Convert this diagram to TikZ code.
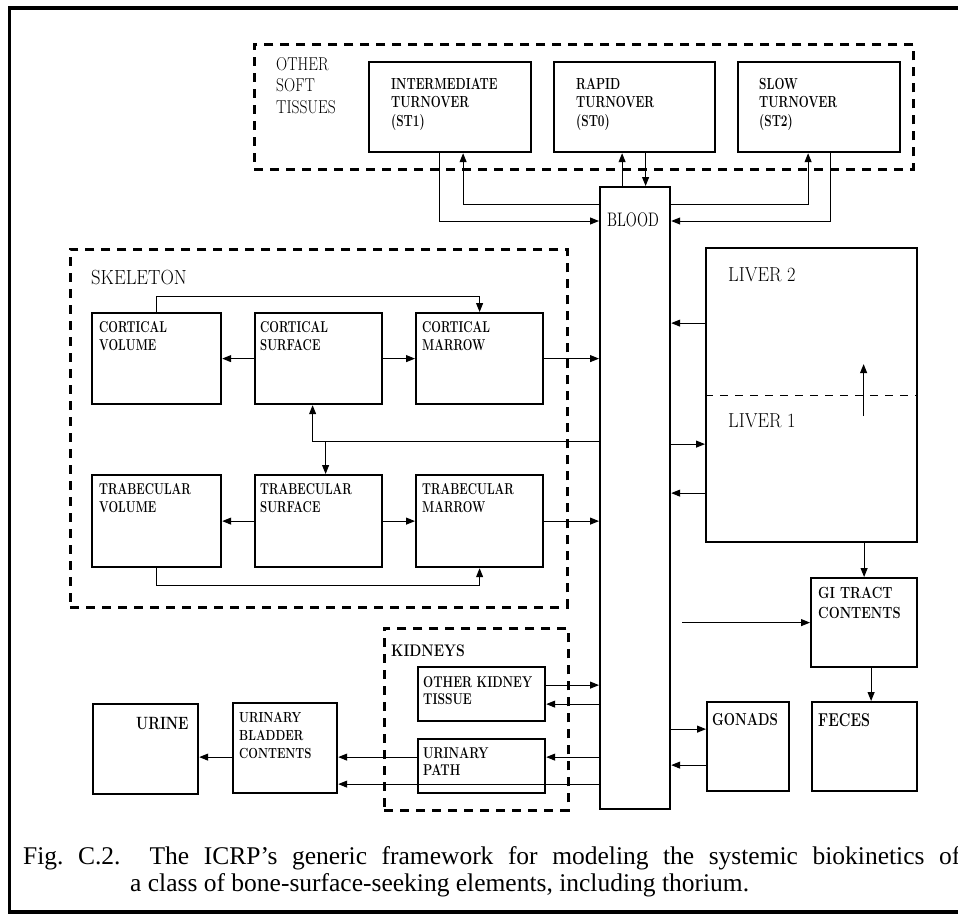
\documentclass[tikz,border=0pt]{standalone}
\usepackage{fontspec}
\newfontfamily\capfont{Liberation Serif}
\usetikzlibrary{arrows.meta,positioning}
\newcommand{\stack}[2]{\scalebox{1}[#1]{\begin{tabular}{@{}l@{}}#2\end{tabular}}}
\tikzset{
  box/.style={draw, line width=2.2pt, anchor=north west, inner sep=0pt},
  group/.style={draw, line width=2.7pt, dash pattern=on 9pt off 7pt, anchor=north west, inner sep=0pt},
  txt/.style={anchor=north west, inner sep=0pt},
  flow/.style={line width=1pt, -{Triangle[length=9pt,width=7pt]}},
  link/.style={line width=1pt},
}
\begin{document}
\begin{tikzpicture}[x=1pt, y=-1pt]
  \useasboundingbox (0,0) rectangle (958,914);
  % frame, open at the right
  \draw[line width=3.6pt] (960,8) -- (9.5,8) -- (9.5,912) -- (960,912);

  % other soft tissues
  \node[group, minimum width=659, minimum height=125] (ost) at (253,43) {};
  \node[txt, font=\fontsize{15.5}{17.9}\selectfont] (ost-t) at (276,55) {\stack{1.2}{OTHER\\SOFT\\TISSUES}};
  \node[box, minimum width=162, minimum height=90] (st1) at (368,61) {};
  \node[box, minimum width=161, minimum height=90] (st0) at (553,61) {};
  \node[box, minimum width=162, minimum height=90] (st2) at (737,61) {};
  \node[txt, font=\bfseries\fontsize{11.8}{13.6}\selectfont] (st1-t) at (391,76) {\stack{1.36}{INTERMEDIATE\\TURNOVER\\(ST1)}};
  \node[txt, font=\bfseries\fontsize{11.8}{13.6}\selectfont] (st0-t) at (576,76) {\stack{1.36}{RAPID\\TURNOVER\\(ST0)}};
  \node[txt, font=\bfseries\fontsize{11.8}{13.6}\selectfont] (st2-t) at (759,76) {\stack{1.36}{SLOW\\TURNOVER\\(ST2)}};

  % blood
  \node[box, minimum width=70, minimum height=622] (blood) at (599,186) {};
  \node[inner sep=0pt, font=\fontsize{14.5}{16}\selectfont] (blood-t) at (633,220) {\scalebox{1}[1.35]{BLOOD}};
  \coordinate (bout) at ([yshift=-18pt]blood.north);
  \coordinate (bin) at ([yshift=-35pt]blood.north);

  % skeleton
  \node[group, minimum width=497, minimum height=358] (skel) at (69,248) {};
  \node[txt, font=\fontsize{18.6}{20}\selectfont] (skel-t) at (91,270) {\scalebox{1}[1.1]{SKELETON}};
  \node[box, minimum width=129, minimum height=91] (cv) at (91,312) {};
  \node[box, minimum width=127, minimum height=91] (cs) at (254,312) {};
  \node[box, minimum width=127, minimum height=91] (cm) at (415,312) {};
  \node[box, minimum width=129, minimum height=92] (tv) at (91,474) {};
  \node[box, minimum width=127, minimum height=92] (ts) at (254,474) {};
  \node[box, minimum width=127, minimum height=92] (tm) at (415,474) {};
  \node[txt, font=\bfseries\fontsize{11.4}{13.5}\selectfont] (cv-t) at (99,319) {\stack{1.38}{CORTICAL\\VOLUME}};
  \node[txt, font=\bfseries\fontsize{11.4}{13.5}\selectfont] (cs-t) at (260,319) {\stack{1.38}{CORTICAL\\SURFACE}};
  \node[txt, font=\bfseries\fontsize{11.4}{13.5}\selectfont] (cm-t) at (422,319) {\stack{1.38}{CORTICAL\\MARROW}};
  \node[txt, font=\bfseries\fontsize{11.4}{13.5}\selectfont] (tv-t) at (99,481) {\stack{1.38}{TRABECULAR\\VOLUME}};
  \node[txt, font=\bfseries\fontsize{11.4}{13.5}\selectfont] (ts-t) at (260,481) {\stack{1.38}{TRABECULAR\\SURFACE}};
  \node[txt, font=\bfseries\fontsize{11.4}{13.5}\selectfont] (tm-t) at (422,481) {\stack{1.38}{TRABECULAR\\MARROW}};
  \coordinate (sk) at ([yshift=-36pt]cs.south);

  % liver, gi tract, gonads, feces
  \node[box, minimum width=211, minimum height=294] (liver) at (705,247) {};
  \node[txt, font=\fontsize{18.4}{20}\selectfont] (liver2-t) at (728,267) {\scalebox{1}[1.1]{LIVER 2}};
  \node[txt, font=\fontsize{18.4}{20}\selectfont] (liver1-t) at (728,413) {\scalebox{1}[1.1]{LIVER 1}};
  \node[box, minimum width=106, minimum height=89] (gi) at (810,577) {};
  \node[txt, font=\bfseries\fontsize{13}{16.1}\selectfont] (gi-t) at (818,584) {\stack{1.24}{GI TRACT\\CONTENTS}};
  \node[box, minimum width=82, minimum height=89] (gonads) at (706,701) {};
  \node[box, minimum width=105, minimum height=89] (feces) at (811,701) {};
  \node[txt, font=\bfseries\fontsize{13.3}{15}\selectfont] (gonads-t) at (712,713) {\scalebox{1}[1.3]{GONADS}};
  \node[txt, font=\bfseries\fontsize{14.3}{16}\selectfont] (feces-t) at (818,713) {\scalebox{1}[1.3]{FECES}};

  % kidneys and bladder
  \node[group, minimum width=184, minimum height=182] (kid) at (383,627) {};
  \node[txt, font=\bfseries\fontsize{14}{16}\selectfont] (kid-t) at (391,645) {\scalebox{1}[1.2]{KIDNEYS}};
  \node[box, minimum width=127, minimum height=54] (okt) at (417,666) {};
  \node[box, minimum width=127, minimum height=54] (up) at (417,738) {};
  \node[txt, font=\bfseries\fontsize{12}{13.1}\selectfont] (okt-t) at (423,675) {\stack{1.3}{OTHER KIDNEY\\TISSUE}};
  \node[txt, font=\bfseries\fontsize{12}{13.1}\selectfont] (up-t) at (423,746) {\stack{1.3}{URINARY\\PATH}};
  \node[box, minimum width=105, minimum height=90] (urine) at (92,703) {};
  \node[box, minimum width=104, minimum height=90] (ubc) at (232,702) {};
  \node[txt, font=\bfseries\fontsize{14}{16}\selectfont] (urine-t) at (136,717) {\scalebox{1}[1.27]{URINE}};
  \node[txt, font=\bfseries\fontsize{11.4}{14.1}\selectfont] (ubc-t) at (239,709.5) {\stack{1.28}{URINARY\\BLADDER\\CONTENTS}};

  % caption
  \node[anchor=base west, inner sep=0pt, font=\capfont\fontsize{25.5}{28}\selectfont] (cap1) at (23,864) {\makebox[937pt][s]{\frenchspacing Fig.\ C.2.\ \ The ICRP’s generic framework for modeling the systemic biokinetics of}};
  \node[anchor=base west, inner sep=0pt, font=\capfont\fontsize{25.5}{28}\selectfont] (cap2) at (130,891) {a class of bone-surface-seeking elements, including thorium.};

  % soft tissues <-> blood
  \draw[flow] ([xshift=-11pt]st1.south) |- (blood.west |- bin);
  \draw[flow] (blood.west |- bout) -| ([xshift=13pt]st1.south);
  \draw[flow] ([xshift=-13pt]blood.north) -- ([xshift=-13pt]blood.north |- st0.south);
  \draw[flow] ([xshift=11pt]st0.south) -- ([xshift=11pt]st0.south |- blood.north);
  \draw[flow] (blood.east |- bout) -| ([xshift=-11pt]st2.south);
  \draw[flow] ([xshift=11pt]st2.south) |- (blood.east |- bin);

  % skeleton
  \draw[flow] (cv.north) -- ++(0,-16) -| (cm.north);
  \draw[flow] (cs.west) -- (cv.east);
  \draw[flow] (cs.east) -- (cm.west);
  \draw[flow] (cm.east) -- (cm.east -| blood.west);
  \draw[flow] (blood.west |- sk) -| ([xshift=-6pt]cs.south);
  \draw[flow] ([xshift=7pt]cs.south |- sk) -- ([xshift=7pt]ts.north);
  \draw[flow] (ts.west) -- (tv.east);
  \draw[flow] (ts.east) -- (tm.west);
  \draw[flow] (tm.east) -- (tm.east -| blood.west);
  \draw[flow] (tv.south) -- ++(0,17) -| (tm.south);

  % liver
  \draw[link, dash pattern=on 8pt off 7pt] (liver.west) -- (liver.east);
  \draw[flow] ([xshift=52pt,yshift=-21pt]liver.center) -- ([xshift=52pt,yshift=31pt]liver.center);
  \draw[flow] ([yshift=72pt]liver.west) -- ([yshift=72pt]liver.west -| blood.east);
  \draw[flow] ([yshift=-49pt]liver.west -| blood.east) -- ([yshift=-49pt]liver.west);
  \draw[flow] ([yshift=-98pt]liver.west) -- ([yshift=-98pt]liver.west -| blood.east);
  \draw[flow] (gi.north |- liver.south) -- (gi.north);
  \draw[flow] ([xshift=11pt]gi.west -| blood.east) -- (gi.west);
  \draw[flow] ([xshift=7pt]gi.south) -- ([xshift=7pt]gi.south |- feces.north);
  \draw[flow] ([yshift=17.5pt]gonads.west -| blood.east) -- ([yshift=17.5pt]gonads.west);
  \draw[flow] ([yshift=-18.5pt]gonads.west) -- ([yshift=-18.5pt]gonads.west -| blood.east);

  % kidneys, bladder
  \draw[flow] ([yshift=9pt]okt.east) -- ([yshift=9pt]okt.east -| blood.west);
  \draw[flow] ([yshift=-10pt]okt.east -| blood.west) -- ([yshift=-10pt]okt.east);
  \draw[flow] ([yshift=9pt]up.east -| blood.west) -- ([yshift=9pt]up.east);
  \draw[flow] ([yshift=9pt]up.west) -- ([yshift=9pt]up.west -| ubc.east);
  \draw[flow] ([yshift=-18pt]up.west -| blood.west) -- ([yshift=-18pt]up.west -| ubc.east);
  \draw[flow] ([yshift=-9pt]ubc.west) -- ([yshift=-9pt]ubc.west -| urine.east);
\end{tikzpicture}
\end{document}
